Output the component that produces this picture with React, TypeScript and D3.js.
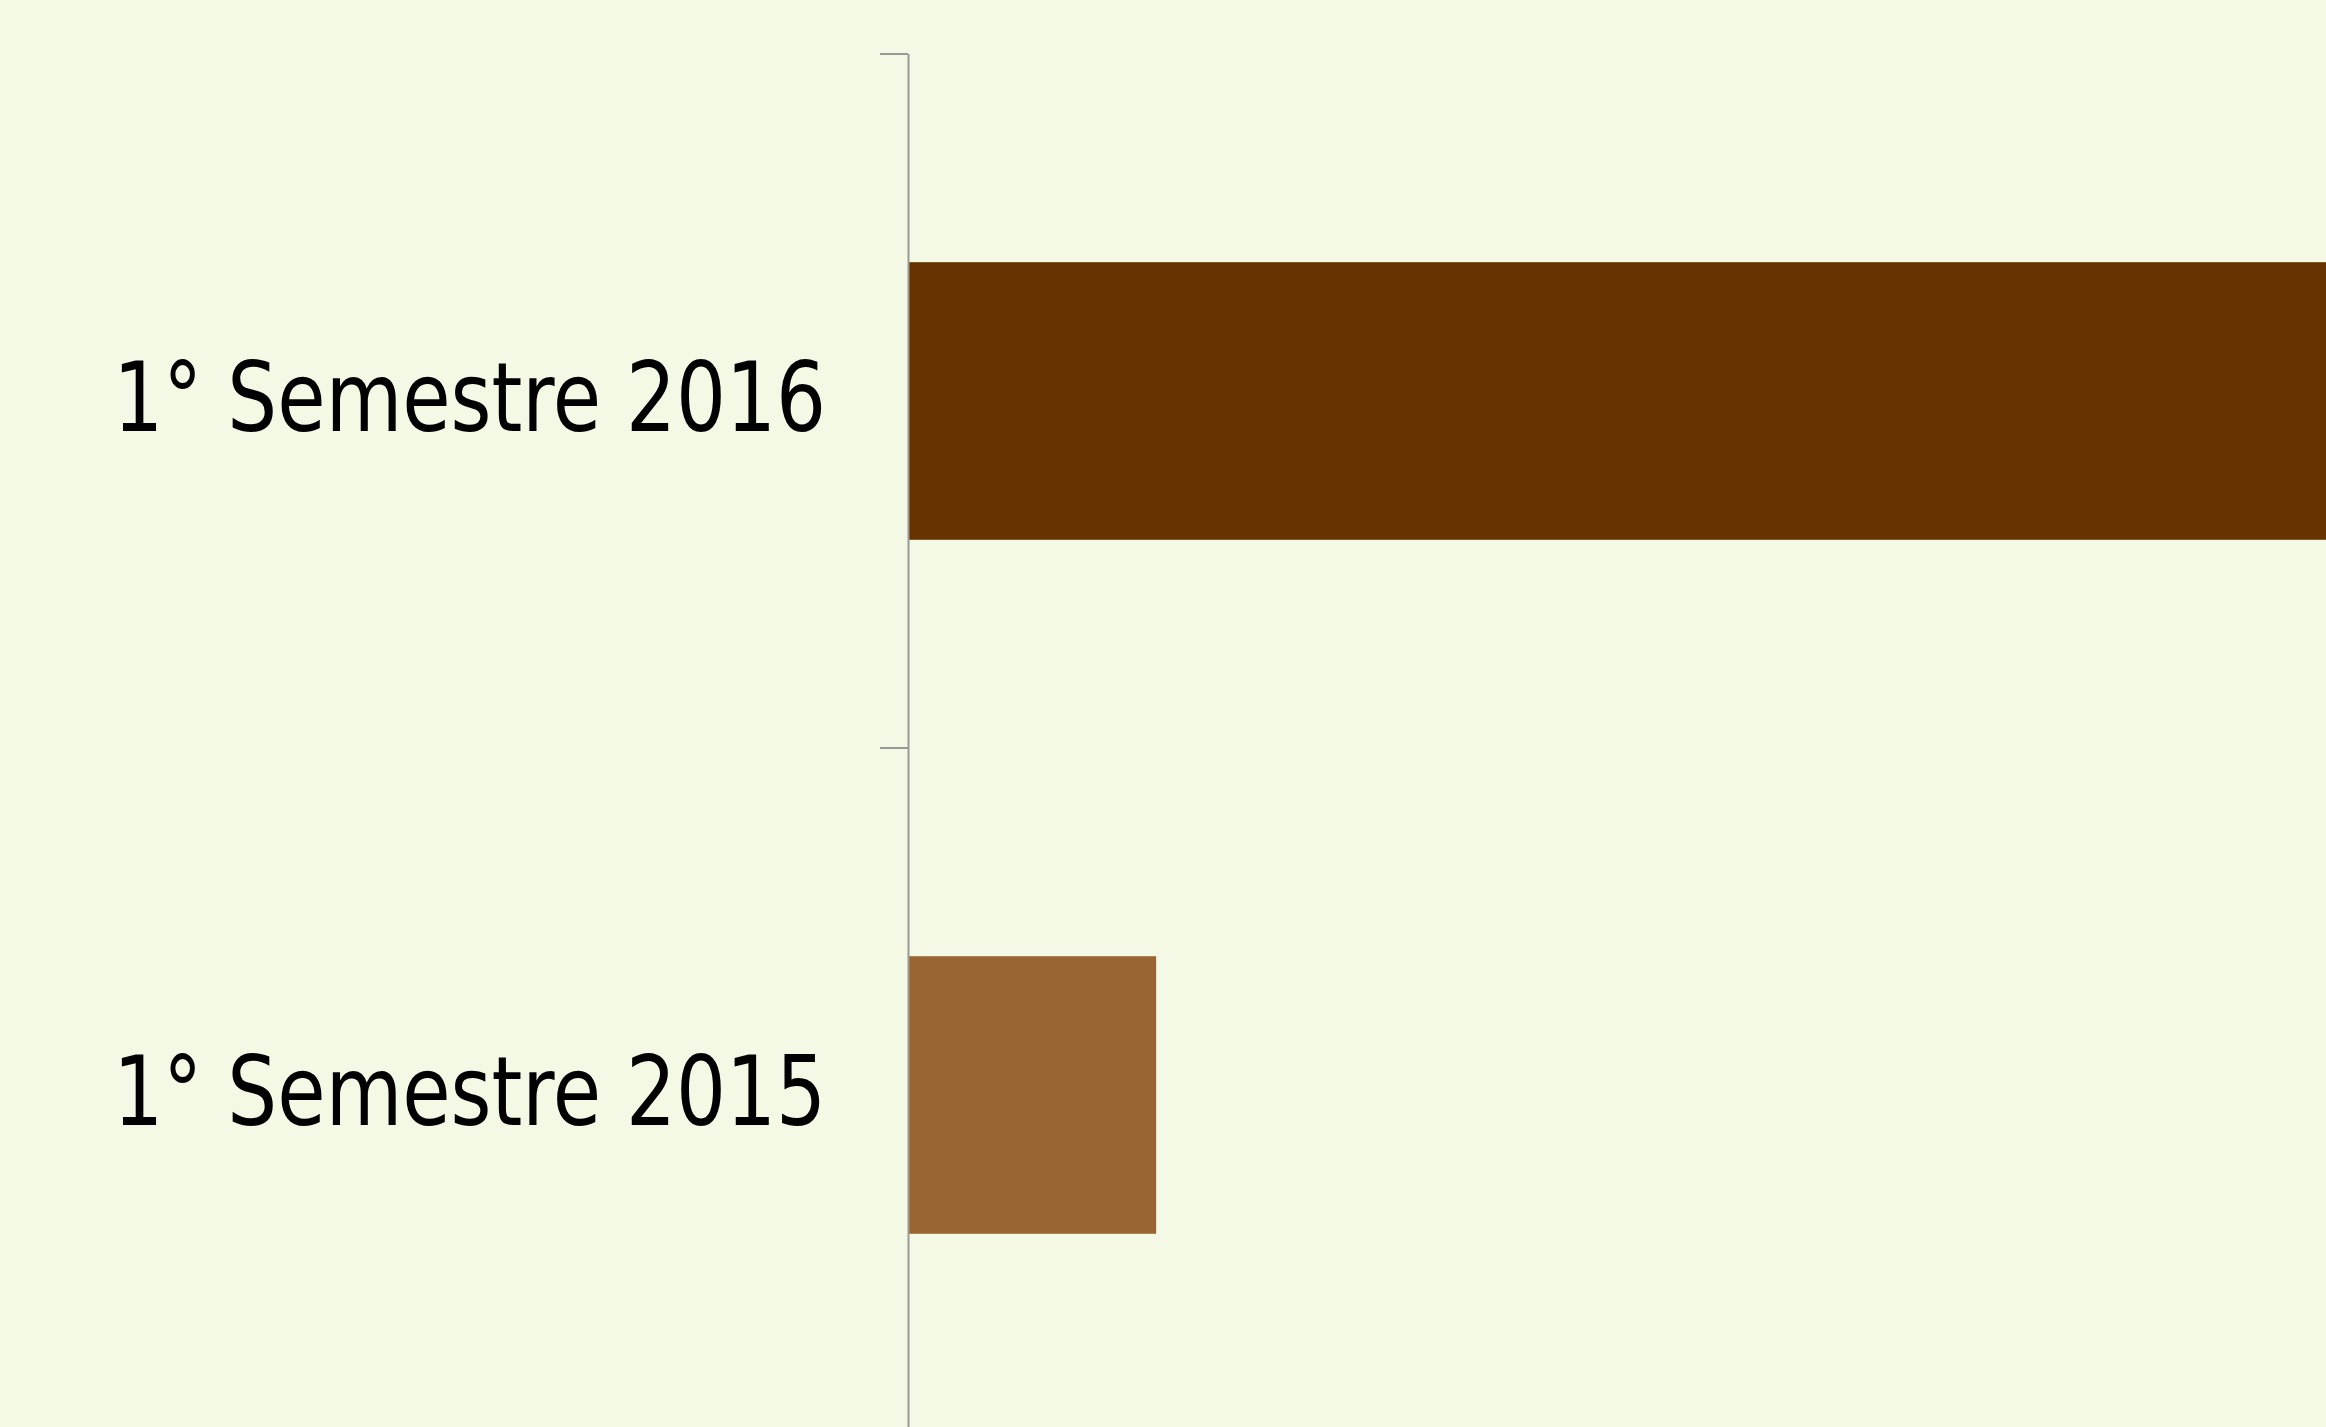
import React, { useEffect, useRef } from "react";
import * as d3 from "d3";

const categories = ["1° Semestre 2016", "1° Semestre 2015"];
const values = [45, 7];
const barColors = ["#663300", "#996633"];

const width = 2326;
const height = 1427;
const margin = { top: 54, left: 908 };
const bandStep = 694;

export default function App() {
  const ref = useRef<SVGSVGElement>(null);

  useEffect(() => {
    document.body.style.margin = "0";
    document.body.style.background = "#f4f9e5";

    const svg = d3.select(ref.current);
    svg.selectAll("*").remove();

    const y = d3
      .scaleBand<string>()
      .domain(categories)
      .range([margin.top, margin.top + bandStep * categories.length])
      .paddingInner(0)
      .paddingOuter(0);

    // value scale, the long bar runs off the right edge
    const x = d3.scaleLinear().domain([0, 40]).range([margin.left, margin.left + 1418]);

    svg.append("rect").attr("width", width).attr("height", height).attr("fill", "#f4f9e5");

    const barH = y.bandwidth() * 0.4;
    svg
      .selectAll("rect.bar")
      .data(categories)
      .enter()
      .append("rect")
      .attr("class", "bar")
      .attr("x", x(0))
      .attr("y", (d) => (y(d) || 0) + (y.bandwidth() - barH) / 2)
      .attr("width", (d, i) => x(values[i]) - x(0))
      .attr("height", barH)
      .attr("fill", (d, i) => barColors[i]);

    // axis line + ticks at band boundaries
    const g = svg.append("g");
    g.append("line")
      .attr("x1", margin.left + 0.5)
      .attr("x2", margin.left + 0.5)
      .attr("y1", margin.top)
      .attr("y2", height)
      .attr("stroke", "#999")
      .attr("stroke-width", 2);
    g.selectAll("line.tick")
      .data(categories)
      .enter()
      .append("line")
      .attr("class", "tick")
      .attr("x1", margin.left - 28)
      .attr("x2", margin.left)
      .attr("y1", (d) => y(d) || 0)
      .attr("y2", (d) => y(d) || 0)
      .attr("stroke", "#999")
      .attr("stroke-width", 2);

    const labels = g
      .selectAll("text.label")
      .data(categories)
      .enter()
      .append("text")
      .attr("class", "label")
      .attr("x", 826)
      .attr("y", (d) => (y(d) || 0) + y.bandwidth() / 2)
      .attr("dy", "0.31em")
      .attr("text-anchor", "end")
      .attr("font-family", "'DejaVu Sans Condensed', 'DejaVu Sans', sans-serif")
      .attr("font-size", 96)
      .attr("fill", "#000")
      .text((d) => d);

    // squeeze glyphs a little, the original face is narrower
    labels.each(function () {
      const el = this as SVGTextElement;
      const w = el.getComputedTextLength();
      d3.select(el).attr("textLength", w * 0.91).attr("lengthAdjust", "spacingAndGlyphs");
    });
  }, []);

  return <svg ref={ref} width={width} height={height} style={{ display: "block" }} />;
}
